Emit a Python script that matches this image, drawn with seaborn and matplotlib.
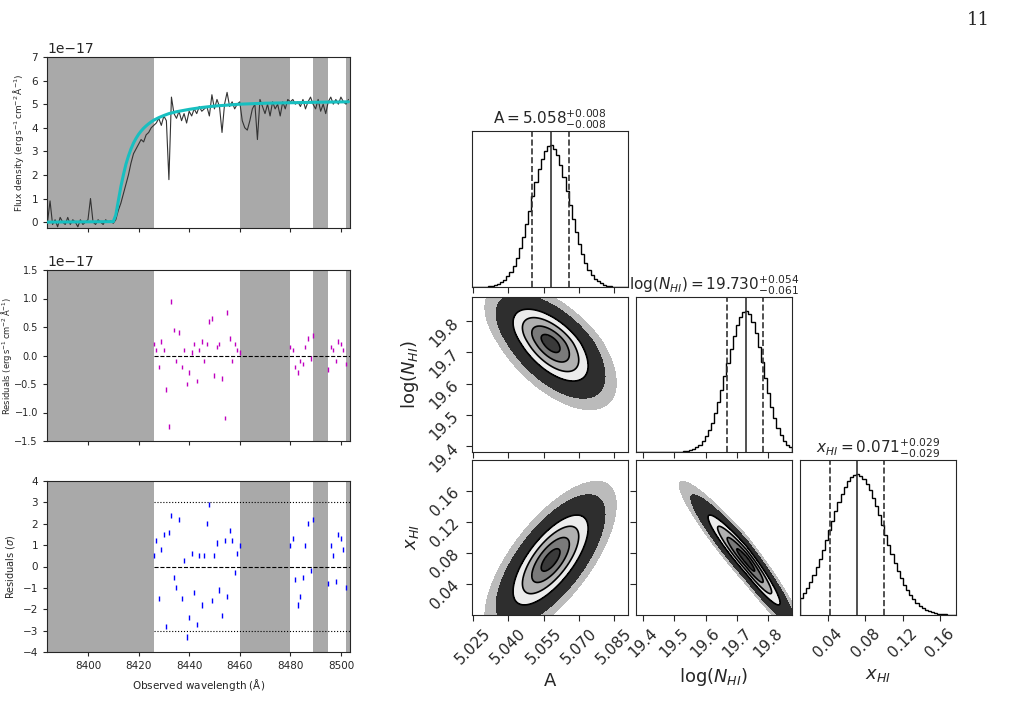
import numpy as np
import matplotlib
matplotlib.use("Agg")
import matplotlib.pyplot as plt
import seaborn as sns

sns.set_style("ticks")

# ---- spectrum fit (flux in units of 1e-17 erg/s/cm2/A) ----
wave = np.arange(8384, 8504)
flux = [0.0, 0.9, -0.1, 0.1, -0.2, 0.2, 0.0, -0.1, 0.2, -0.1, 0.1, 0.0, -0.2, 0.1, -0.1, 0.0, 0.1, 1.0,
        0.0, -0.1, 0.1, 0.0, -0.1, 0.1, 0.0, 0.05, -0.05,
        0.1, 0.5, 0.8, 1.2, 1.6, 2.0, 2.5, 2.9, 3.1, 3.3, 3.5, 3.4, 3.7, 3.8, 4.0, 4.1, 4.2, 4.4, 4.1, 4.5,
        4.3, 1.8, 5.3, 4.6, 4.4, 4.7, 4.3, 4.6, 4.2, 4.7, 4.5, 4.8, 4.6, 4.9, 4.7, 4.8, 4.9, 4.5, 5.4, 4.8,
        5.2, 4.9, 3.8, 5.0, 5.5, 4.9, 5.1, 4.8, 5.0, 5.1, 4.3, 4.0, 3.9, 4.3, 4.8, 5.0, 3.5, 5.2, 4.9, 4.6,
        5.0, 4.5, 5.1, 4.8, 5.0, 4.5, 5.1, 4.8, 5.2, 5.1, 5.2, 5.0, 5.1, 4.9, 5.2, 4.8, 5.1, 5.3, 5.0, 4.8,
        5.2, 4.7, 5.0, 4.6, 5.1, 5.3, 5.0, 5.2, 5.0, 5.3, 5.1, 5.0, 5.2]
model_wave = [8384, 8410, 8411, 8412, 8413, 8414, 8415, 8416, 8417, 8418, 8419, 8420, 8421, 8422, 8423,
              8424, 8425, 8426, 8428, 8430, 8432, 8435, 8440, 8445, 8450, 8455, 8460, 8470, 8480, 8490, 8503]
model_flux = [0.0, 0.02, 0.3, 0.9, 1.5, 2.0, 2.45, 2.8, 3.1, 3.35, 3.55, 3.72, 3.86, 3.98, 4.08,
              4.17, 4.25, 4.32, 4.43, 4.52, 4.6, 4.68, 4.78, 4.86, 4.92, 4.96, 5.0, 5.04, 5.06, 5.08, 5.1]
masked = [(8383.8, 8426.2), (8460, 8480), (8489, 8495), (8502, 8503.6)]

res_wave = list(range(8426, 8461)) + list(range(8480, 8490)) + list(range(8495, 8503))
resid = [0.2, 0.1, -0.2, 0.25, 0.1, -0.6, -1.25, 0.95, 0.45, -0.1, 0.4, -0.2, 0.1, -0.5, -0.3, 0.05, 0.2,
         -0.45, 0.1, 0.25, -0.1, 0.2, 0.6, 0.65, -0.35, 0.15, 0.2, -0.4, -1.1, 0.75, 0.3, -0.1, 0.2, 0.1, 0.05,
         0.15, 0.1, -0.2, -0.3, -0.1, -0.15, 0.15, 0.3, -0.05, 0.35,
         -0.25, 0.15, 0.1, -0.1, 0.25, 0.2, 0.1, -0.15]
resid_sig = [0.5, 1.2, -1.5, 0.8, 1.5, -2.8, 1.6, 2.4, -0.5, -1.0, 2.2, -1.5, 0.3, -3.3, -2.4, 0.6, -1.2,
             -2.7, 0.5, -1.8, 0.5, 2.0, 2.9, -1.6, 0.5, 1.1, -1.1, -2.3, 1.2, -1.4, 1.7, 1.2, -0.3, 0.6, 1.0,
             1.0, 1.3, -0.6, -1.8, -1.4, -0.5, 1.0, 2.0, -0.2, 2.2,
             -0.8, 1.0, 0.5, -0.7, 1.5, 1.3, 0.8, -1.0]

# ---- posterior summary (median, -err, +err), correlations ----
par_names = ["A", r"log($N_{HI}$)", r"$x_{HI}$"]
par_title = [r"\mathrm{A}", r"\log(N_{HI})", r"x_{HI}"]
par_med = [5.058, 19.730, 0.071]
par_lo = [0.008, 0.061, 0.029]
par_hi = [0.008, 0.054, 0.029]
corr = {(1, 0): -0.6, (2, 0): 0.7, (2, 1): -0.95}
x_ranges = [(5.0245, 5.091), (19.378, 19.876), (0.010, 0.177)]
y_ranges = {1: (19.381, 19.877), 2: (0.0, 0.2)}
ticks = [[5.025, 5.040, 5.055, 5.070, 5.085], [19.4, 19.5, 19.6, 19.7, 19.8], [0.04, 0.08, 0.12, 0.16]]
tick_labels = [["5.025", "5.040", "5.055", "5.070", "5.085"], ["19.4", "19.5", "19.6", "19.7", "19.8"],
               ["0.04", "0.08", "0.12", "0.16"]]

W, H = 1010, 713
fig = plt.figure(figsize=(W / 100, H / 100), dpi=100)


def add_ax(x0, y0, x1, y1):
    return fig.add_axes([x0 / W, 1 - y1 / H, (x1 - x0) / W, (y1 - y0) / H])


scale = 1e-17
unit = r"(erg$\,$s$^{-1}\,$cm$^{-2}\,\mathrm{\AA}^{-1}$)"
left_axes = [add_ax(47, 57, 350, 228), add_ax(47, 270, 350, 441), add_ax(47, 481, 350, 652)]
for ax in left_axes:
    for a, b in masked:
        ax.axvspan(a, b, color="#a9a9a9", lw=0, zorder=0)
    ax.set_xlim(8383.8, 8503.6)
    ax.set_xticks([8400, 8420, 8440, 8460, 8480, 8500])
    ax.tick_params(labelsize=7.5, length=3)

ax = left_axes[0]
sns.lineplot(x=wave, y=np.array(flux) * scale, ax=ax, color="#333333", lw=0.8, zorder=2)
sns.lineplot(x=model_wave, y=np.array(model_flux) * scale, ax=ax, color="#17bfc0", lw=2.2, zorder=3)
ax.set_ylim(-0.25e-17, 7e-17)
ax.set_yticks(np.arange(0, 8) * scale)
ax.set_xticklabels([])
ax.set_ylabel("Flux density " + unit, fontsize=6.5)

ax = left_axes[1]
ax.errorbar(res_wave, np.array(resid) * scale, yerr=0.04e-17, fmt="none", ecolor="m", elinewidth=1, zorder=3)
ax.axhline(0, xmin=(8426.2 - 8383.8) / 119.8, color="k", ls="--", lw=0.8)
ax.set_ylim(-1.5e-17, 1.5e-17)
ax.set_yticks(np.arange(-1.5, 1.6, 0.5) * scale)
ax.set_xticklabels([])
ax.tick_params(axis="y", labelsize=7)
ax.set_ylabel("Residuals " + unit, fontsize=6)
ax.yaxis.set_label_coords(-0.11, 0.5)

ax = left_axes[2]
ax.errorbar(res_wave, resid_sig, yerr=0.12, fmt="none", ecolor="b", elinewidth=1, zorder=3)
x0f = (8426.2 - 8383.8) / 119.8
ax.axhline(0, xmin=x0f, color="k", ls="--", lw=0.8)
ax.axhline(3, xmin=x0f, color="k", ls=":", lw=0.8)
ax.axhline(-3, xmin=x0f, color="k", ls=":", lw=0.8)
ax.set_ylim(-4, 4)
ax.set_yticks(range(-4, 5))
ax.set_ylabel(r"Residuals ($\sigma$)", fontsize=7)
ax.set_xlabel(r"Observed wavelength ($\mathrm{\AA}$)", fontsize=7.5)

# ---- corner plot ----
cols = [(472, 628), (636, 792), (800, 956)]
rows = [(131, 287), (297, 452), (460, 615)]


def split_pdf(x, i):
    s = np.where(x < par_med[i], par_lo[i], par_hi[i])
    return np.exp(-0.5 * ((x - par_med[i]) / s) ** 2)


for i in range(3):
    for j in range(i + 1):
        ax = add_ax(cols[j][0], rows[i][0], cols[j][1], rows[i][1])
        ax.set_xlim(*x_ranges[j])
        ax.set_xticks(ticks[j])
        if i == j:
            edges = np.linspace(*x_ranges[i], 51)
            cen = 0.5 * (edges[1:] + edges[:-1])
            h = split_pdf(cen, i)
            ax.stairs(h, edges, color="k", lw=1)
            ax.set_ylim(0, 1.1)
            ax.set_yticks([])
            m = par_med[i]
            ax.axvline(m - par_lo[i], color="#333333", ls="--", lw=1.2)
            ax.axvline(m, color="#333333", lw=1.2)
            ax.axvline(m + par_hi[i], color="#333333", ls="--", lw=1.2)
            title = "$%s = %.3f^{+%.3f}_{-%.3f}$" % (par_title[i], m, par_hi[i], par_lo[i])
            ax.set_title(title, fontsize=11, pad=3)
        else:
            ax.set_ylim(*y_ranges[i])
            ax.set_yticks(ticks[i])
            gx = np.linspace(*x_ranges[j], 300)
            gy = np.linspace(*y_ranges[i], 300)
            X, Y = np.meshgrid(gx, gy)
            sx = np.where(X < par_med[j], par_lo[j], par_hi[j])
            sy = np.where(Y < par_med[i], par_lo[i], par_hi[i])
            u = (X - par_med[j]) / sx
            v = (Y - par_med[i]) / sy
            r = corr[(i, j)]
            d = np.sqrt((u ** 2 - 2 * r * u * v + v ** 2) / (1 - r ** 2))
            ax.contourf(X, Y, d, levels=[2.9, 3.5], colors=["#6a6a6a"], alpha=0.45)
            ax.contourf(X, Y, d, levels=[0, 0.5, 1, 1.5, 2, 2.9],
                        colors=["#3a3a3a", "#7a7a7a", "#b0b0b0", "#ececec", "#2e2e2e"])
            ax.contour(X, Y, d, levels=[0.5, 1, 1.5, 2], colors="k", linewidths=1.2)
        if i == 2:
            ax.set_xticklabels(tick_labels[j], rotation=45, fontsize=11)
            ax.set_xlabel(par_names[j], fontsize=13)
        else:
            ax.set_xticklabels([])
        if j == 0 and i > 0:
            ax.set_yticklabels(tick_labels[i], rotation=45, fontsize=11)
            ax.set_ylabel(par_names[i], fontsize=13)
        elif i != j:
            ax.set_yticklabels([])
        ax.tick_params(length=4)

fig.text(990 / W, 1 - 20 / H, "11", ha="right", va="center", fontsize=13, family="DejaVu Serif")

fig.savefig("out.png", dpi=100)
